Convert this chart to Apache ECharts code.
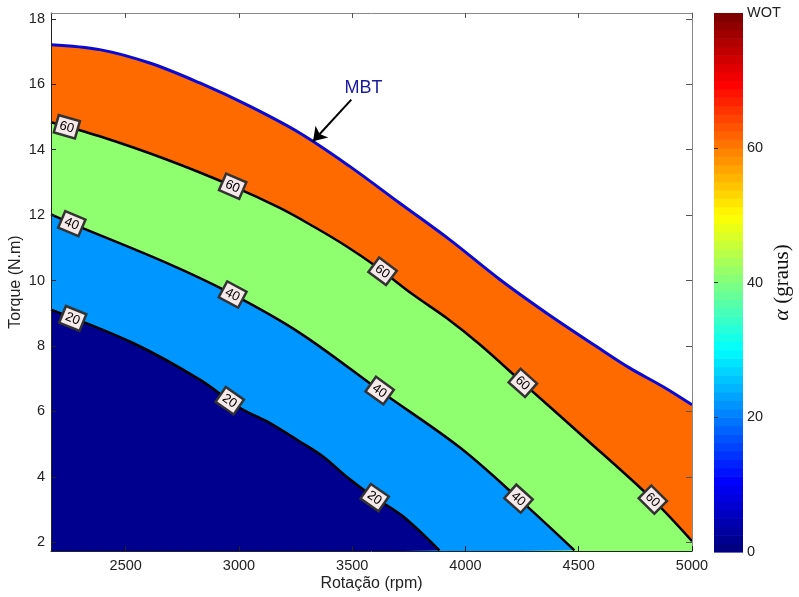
<!DOCTYPE html>
<html><head><meta charset="utf-8">
<script src="https://cdn.jsdelivr.net/npm/echarts@6/dist/echarts.min.js"></script>
<style>html,body{margin:0;padding:0;background:#fff}#c{width:799px;height:597px}</style>
</head><body><div id="c"></div>
<script>
// ---- data ----
const mbtRpm    = [2170, 2385, 2606, 2827, 3047, 3268, 3489, 3709, 3930, 4150, 4357, 4577, 4724, 4871, 5000];
const mbtTorque = [17.21,17.06,16.65,16.04,15.33,14.51,13.49,12.37,11.25,10.04,9.01, 7.99, 7.33, 6.76, 6.20];

const c60Rpm    = [2170, 2385, 2680, 2974, 3180, 3327, 3474, 3606, 3768, 3915, 4062, 4253, 4518, 4827, 5000];
const c60Torque = [14.84,14.41,13.70,12.88,12.22,11.66,11.05,10.43,9.57, 8.86, 8.05, 6.87, 5.24, 3.30, 2.03];

const c40Rpm    = [2170, 2262, 2680, 2960, 3268, 3636, 3974, 4239, 4481];
const c40Torque = [12.02,11.74,10.54,9.62, 8.40, 6.56, 4.90, 3.30, 1.75];

const c20Rpm    = [2170, 2532, 2827, 3003, 3135, 3268, 3371, 3474, 3591, 3724, 3885];
const c20Torque = [9.11, 8.09, 6.97, 6.11, 5.65, 5.08, 4.62, 4.01, 3.40, 2.79, 1.75];

const label60Rpm = [2240, 2972, 3634, 4253, 4827];
const label40Rpm = [2262, 2972, 3621, 4234];
const label20Rpm = [2266, 2959, 3599];

const xTicks = [2500, 3000, 3500, 4000, 4500, 5000];
const yTicks = [2, 4, 6, 8, 10, 12, 14, 16, 18];
const cbTicks = [0, 20, 40, 60, 80];
const cbTickLabels = ['0', '20', '40', '60', 'WOT'];

const mbtText = 'MBT';
const mbtTextAt = [3550, 15.88];
const mbtArrowFrom = [3496, 15.53];
const mbtArrowTo = [3327, 14.26];

// ---- styling ----
const colNavy = '#00008f', colBlue = '#0096ff', colGreen = '#8fff70', colOrange = '#ff6a00';
const FONT = 'Liberation Sans, Arial, sans-serif';
const SERIF = 'Liberation Serif, DejaVu Serif, serif';

function zip(a, b) { return a.map((v, i) => [v, b[i]]); }
function interp(xs, ys, x) {
  if (x <= xs[0]) return ys[0];
  for (let i = 1; i < xs.length; i++) {
    if (x <= xs[i]) { const t = (x - xs[i-1]) / (xs[i] - xs[i-1]); return ys[i-1] + t * (ys[i] - ys[i-1]); }
  }
  return ys[ys.length - 1];
}
const contours = [[c20Rpm, c20Torque], [c40Rpm, c40Torque], [c60Rpm, c60Torque]];
const labelData = [];
[[label20Rpm, 0, '20'], [label40Rpm, 1, '40'], [label60Rpm, 2, '60']].forEach(([arr, ci, txt]) => {
  arr.forEach(r => labelData.push([r, interp(contours[ci][0], contours[ci][1], r), ci, txt]));
});

function jet(x) {
  const cl = v => Math.max(0, Math.min(1, v));
  const r = cl(Math.min(4 * x - 1.5, -4 * x + 4.5));
  const g = cl(Math.min(4 * x - 0.5, -4 * x + 3.5));
  const b = cl(Math.min(4 * x + 0.5, -4 * x + 2.5));
  return 'rgb(' + Math.round(r * 255) + ',' + Math.round(g * 255) + ',' + Math.round(b * 255) + ')';
}
const cbSteps = 64, cbMax = 80;
const cbData = Array.from({length: cbSteps}, (_, i) => [i]);

const SMOOTH = 0.35;
function areaSeries(x, y, color) {
  return { type: 'line', data: zip(x, y), smooth: SMOOTH, symbol: 'none', silent: true,
    lineStyle: { width: 0 }, areaStyle: { color: color, opacity: 1, origin: 'start' }, z: 2 };
}
function lineSeries(x, y, color, width) {
  return { type: 'line', data: zip(x, y), smooth: SMOOTH, symbol: 'none', silent: true,
    lineStyle: { width: width, color: color }, z: 3 };
}

const chart = echarts.init(document.getElementById('c'));
const mbtLine = lineSeries(mbtRpm, mbtTorque, '#0a0ad6', 3);
mbtLine.markLine = {
  silent: true, symbol: ['none', 'arrow'], symbolSize: 13,
  lineStyle: { color: '#000', width: 2, type: 'solid' }, label: { show: false },
  data: [[{ coord: mbtArrowFrom }, { coord: mbtArrowTo }]]
};

chart.setOption({
  animation: false,
  backgroundColor: '#fff',
  grid: [
    { left: 51, top: 13, right: 107, bottom: 46, outerBoundsMode: 'none', containLabel: false },
    { left: 714, top: 13, width: 29, bottom: 45, outerBoundsMode: 'none', containLabel: false }
  ],
  xAxis: [
    { gridIndex: 0, type: 'value', min: 2170, max: 5000, position: 'bottom', z: 5,
      axisLine: { lineStyle: { color: '#222', width: 1 } },
      axisTick: { inside: true, length: 5, customValues: xTicks, lineStyle: { color: '#222' } },
      axisLabel: { customValues: xTicks, fontSize: 14.5, color: '#222', margin: 7, fontFamily: FONT,
        formatter: v => String(v) },
      splitLine: { show: false },
      name: 'Rotação (rpm)', nameLocation: 'middle', nameGap: 25, nameMoveOverlap: false,
      nameTextStyle: { fontSize: 16, color: '#222', fontFamily: FONT } },
    { gridIndex: 0, type: 'value', min: 2170, max: 5000, position: 'top', z: 5,
      axisLine: { lineStyle: { color: '#888', width: 1 } },
      axisTick: { inside: true, length: 5, customValues: xTicks, lineStyle: { color: '#555' } },
      axisLabel: { show: false }, splitLine: { show: false } },
    { gridIndex: 1, type: 'value', min: 0, max: 1, show: false }
  ],
  yAxis: [
    { gridIndex: 0, type: 'value', min: 1.73, max: 18.18, position: 'left', z: 5,
      axisLine: { show: true, lineStyle: { color: '#222', width: 1 } },
      axisTick: { show: true, inside: true, length: 5, customValues: yTicks, lineStyle: { color: '#222' } },
      axisLabel: { customValues: yTicks, fontSize: 14.5, color: '#222', margin: 6, fontFamily: FONT,
        formatter: v => String(v) },
      splitLine: { show: false },
      name: 'Torque (N.m)', nameLocation: 'middle', nameGap: 27, nameRotate: 90, nameMoveOverlap: false,
      nameTextStyle: { fontSize: 16, color: '#222', fontFamily: FONT } },
    { gridIndex: 0, type: 'value', min: 1.73, max: 18.18, position: 'right', z: 5,
      axisLine: { show: true, lineStyle: { color: '#888', width: 1 } },
      axisTick: { show: true, inside: true, length: 6, customValues: yTicks, lineStyle: { color: '#555' } },
      axisLabel: { show: false }, splitLine: { show: false } },
    { gridIndex: 1, type: 'value', min: 0, max: cbMax, position: 'right', z: 5,
      axisLine: { show: false },
      axisTick: { show: true, inside: false, length: 4, customValues: [20, 40, 60], lineStyle: { color: '#333' } },
      axisLabel: { customValues: cbTicks, fontSize: 14.5, color: '#222', margin: 4, fontFamily: FONT,
        formatter: v => cbTickLabels[cbTicks.indexOf(v)] },
      splitLine: { show: false },
      name: '{a|α} (graus)', nameLocation: 'middle', nameGap: 28, nameRotate: 90, nameMoveOverlap: false,
      nameTextStyle: { fontSize: 21, color: '#111', fontFamily: SERIF,
        rich: { a: { fontSize: 22, fontStyle: 'italic', fontFamily: SERIF, color: '#111' } } } }
  ],
  series: [
    areaSeries(mbtRpm, mbtTorque, colOrange),
    areaSeries(c60Rpm, c60Torque, colGreen),
    areaSeries(c40Rpm, c40Torque, colBlue),
    areaSeries(c20Rpm, c20Torque, colNavy),
    lineSeries(c60Rpm, c60Torque, '#000', 2.5),
    lineSeries(c40Rpm, c40Torque, '#000', 2.5),
    lineSeries(c20Rpm, c20Torque, '#000', 2.5),
    mbtLine,
    { type: 'custom', data: labelData, clip: false, silent: true, z: 6,
      encode: { x: 0, y: 1 },
      renderItem: function (params, api) {
        const r = api.value(0), t = api.value(1), ci = api.value(2);
        const txt = labelData[params.dataIndex][3];
        const cx = contours[ci][0], cy = contours[ci][1];
        const p = api.coord([r, t]);
        const p1 = api.coord([r - 50, interp(cx, cy, r - 50)]);
        const p2 = api.coord([r + 50, interp(cx, cy, r + 50)]);
        const ang = Math.atan2(p2[1] - p1[1], p2[0] - p1[0]);
        return { type: 'group', x: p[0], y: p[1], rotation: -ang, children: [
          { type: 'rect', shape: { x: -11, y: -9, width: 22, height: 18 },
            style: { fill: '#f6e9e9', stroke: '#333', lineWidth: 2.5 } },
          { type: 'text', style: { text: txt, x: 0, y: 0.5, align: 'center', verticalAlign: 'middle',
            font: '13px ' + FONT, fill: '#000' } }
        ]};
      } },
    { type: 'custom', data: [mbtTextAt], clip: false, silent: true, z: 6,
      encode: { x: 0, y: 1 },
      renderItem: function (params, api) {
        const p = api.coord([api.value(0), api.value(1)]);
        return { type: 'text', style: { text: mbtText, x: p[0], y: p[1], align: 'center', verticalAlign: 'middle',
          font: '18px ' + FONT, fill: '#1a1a9c' } };
      } },
    { type: 'custom', xAxisIndex: 2, yAxisIndex: 2, data: cbData, clip: false, silent: true, z: 2,
      encode: { x: 0, y: 0 },
      renderItem: function (params, api) {
        const i = api.value(0);
        const lo = i * cbMax / cbSteps, hi = (i + 1) * cbMax / cbSteps;
        const a = api.coord([0, lo]), b = api.coord([1, hi]);
        return { type: 'rect', shape: { x: a[0], y: b[1], width: b[0] - a[0], height: a[1] - b[1] + 0.6 },
          style: { fill: jet(i / (cbSteps - 1)) } };
      } }
  ]
});
</script>
</body></html>
